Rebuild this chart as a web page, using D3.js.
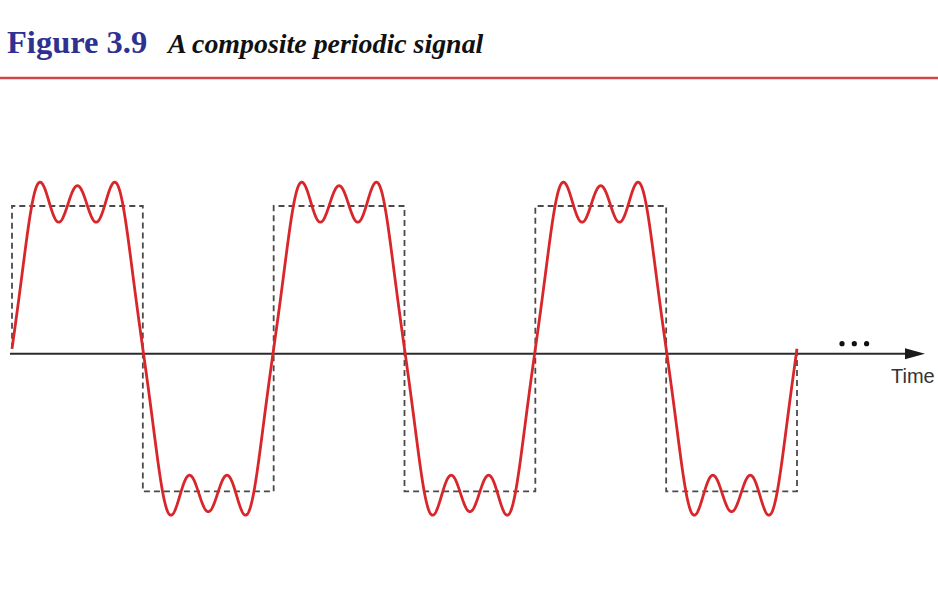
<!DOCTYPE html>
<html>
<head>
<meta charset="utf-8">
<script src="https://cdn.jsdelivr.net/npm/d3@7/dist/d3.min.js"></script>
<style>
  html, body { margin: 0; padding: 0; background: #ffffff; }
  svg { display: block; }
</style>
</head>
<body>
<svg id="chart" width="938" height="603"></svg>
<script>
// ---- data ----
const figureLabel = "Figure 3.9";
const figureTitle = "A composite periodic signal";
const axisLabel = "Time";
const periods = [0, 1, 2, 3];                            // time span, in periods
const harmonicOrders = [1, 3, 5, 7];                     // odd harmonics composing the signal
const harmonicAmplitudes = [1.26, 0.334, 0.111, -0.105]; // amplitude of each harmonic (square level = 1)
const squareLevels = [1, -1, 1, -1, 1, -1];              // square wave level per half period
const axisLevel = -0.035;                                // where the time axis sits

// ---- layout ----
const svg = d3.select("#chart");
const W = 938, H = 603;

const x = d3.scaleLinear().domain([d3.min(periods), d3.max(periods)]).range([12, 797]);
const y = d3.scaleLinear().domain([-1, 1]).range([491.4, 206]);

// header
svg.append("text")
  .attr("x", 7).attr("y", 53)
  .attr("font-family", "'Liberation Serif', 'Times New Roman', serif")
  .attr("font-weight", "bold")
  .attr("font-size", 32.5)
  .attr("fill", "#2e3192")
  .text(figureLabel);
svg.append("text")
  .attr("x", 168).attr("y", 53)
  .attr("font-family", "'Liberation Serif', 'Times New Roman', serif")
  .attr("font-weight", "bold")
  .attr("font-style", "italic")
  .attr("font-size", 27.9)
  .attr("fill", "#111")
  .text(figureTitle);
svg.append("line")
  .attr("x1", 0).attr("x2", W)
  .attr("y1", 78).attr("y2", 78)
  .attr("stroke", "#cc4a45")
  .attr("stroke-width", 2.5);

// time axis
const ay = y(axisLevel);
svg.append("line")
  .attr("x1", 10).attr("x2", 910)
  .attr("y1", ay).attr("y2", ay)
  .attr("stroke", "#2b2b2b")
  .attr("stroke-width", 2);
svg.append("path")
  .attr("d", `M905,${ay - 5.5} L925,${ay} L905,${ay + 5.5} Z`)
  .attr("fill", "#1a1a1a");
svg.append("g").selectAll("circle")
  .data([0, 1, 2])
  .join("circle")
  .attr("cx", d => 842 + d * 12.3)
  .attr("cy", ay - 10)
  .attr("r", 2.6)
  .attr("fill", "#111");
svg.append("text")
  .attr("x", 891).attr("y", 383)
  .attr("font-family", "'Liberation Sans', Arial, sans-serif")
  .attr("font-size", 20)
  .attr("fill", "#333")
  .text(axisLabel);

// square wave (dashed)
const sqPts = [[0, 0]];
squareLevels.forEach((lv, i) => {
  sqPts.push([i * 0.5, lv]);
  sqPts.push([(i + 1) * 0.5, lv]);
});
sqPts.push([3, 0]);
const line = d3.line().x(d => x(d[0])).y(d => y(d[1]));
svg.append("path")
  .attr("d", line(sqPts))
  .attr("fill", "none")
  .attr("stroke", "#4a4a4a")
  .attr("stroke-width", 1.8)
  .attr("stroke-dasharray", "6,4");

// composite signal: sum of its harmonics
const t0 = d3.min(periods), t1 = d3.max(periods);
const samples = d3.range(t0, t1 + 1e-9, 0.001).map(t => [
  t,
  d3.sum(harmonicOrders, (n, i) => harmonicAmplitudes[i] * Math.sin(2 * Math.PI * n * t))
]);
svg.append("path")
  .attr("d", line(samples))
  .attr("fill", "none")
  .attr("stroke", "#d8262a")
  .attr("stroke-width", 2.8)
  .attr("stroke-linejoin", "round");
</script>
</body>
</html>
